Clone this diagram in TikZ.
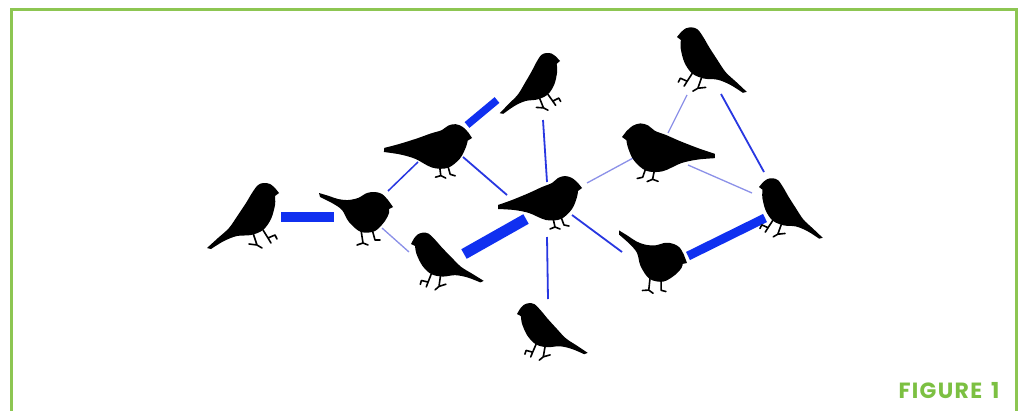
\documentclass[tikz,border=0pt]{standalone}
\usepackage{fontspec}
\newfontfamily\figfont{Poppins}[LetterSpace=6]
\definecolor{framegreen}{RGB}{141,198,82}
\definecolor{textgreen}{RGB}{124,192,66}
\definecolor{tiestrong}{RGB}{16,48,240}
\definecolor{tiemid}{RGB}{40,55,225}
\definecolor{tielight}{RGB}{140,145,232}

\tikzset{
  legs/.style={line width=1.6pt, line cap=round, line join=round},
  strongtie/.style={draw=tiestrong},
  midtie/.style={draw=tiemid, line width=1.8pt},
  lighttie/.style={draw=tielight, line width=1.3pt},
  % upright perched bird, beak tip at the origin, facing right
  birdA/.pic={
    \fill (0,0) -- plot[smooth,tension=0.55] coordinates {(-4,-5) (-9,-9) (-15,-10) (-21,-8) (-27,0) (-33,10) (-41,22) (-50,35) (-61,45) (-72,55)}
      -- plot[smooth,tension=0.55] coordinates {(-68,56) (-55,48) (-42,43) (-28,42) (-16,37) (-8,26) (-4,12) (-4,3)} -- cycle;
    \draw[legs] (-26,40) -- (-22,52) (-30,51) -- (-22,52) -- (-17,55)
                (-16,37) -- (-11,45) (-8,50) -- (-11,45) -- (-4,42) -- (-2,46);
  },
  % level bird with a long tail behind
  birdB/.pic={
    \fill (0,0) -- plot[smooth,tension=0.55] coordinates {(-4,-5) (-10,-10) (-17,-12) (-24,-10) (-30,-5) (-40,-1) (-53,5) (-70,12) (-84,17)}
      -- plot[smooth,tension=0.55] coordinates {(-84,21) (-68,22) (-53,25) (-36,32) (-21,31) (-10,21) (-5,9) (-4,3)} -- cycle;
    \draw[legs] (-29,30) -- (-27,39) (-32,41) -- (-27,39) -- (-22,41)
                (-21,29) -- (-18,37) -- (-13,38);
  },
  % bird with the tail cocked up
  birdC/.pic={
    \fill (0,0) -- plot[smooth,tension=0.55] coordinates {(-5,-7) (-11,-13) (-18,-15) (-26,-14) (-35,-9) (-45,-7) (-55,-8) (-64,-11) (-74,-14)}
      -- plot[smooth,tension=0.55] coordinates {(-73,-10) (-61,-4) (-51,3) (-44,15) (-32,25) (-18,24) (-8,14) (-4,6) (-4,2)} -- cycle;
    \draw[legs] (-32,23) -- (-30,36) (-36,38) -- (-30,36) -- (-25,38)
                (-21,22) -- (-18,33) -- (-13,33);
  }
}

\begin{document}
\begin{tikzpicture}[x=1pt,y=-1pt]
  \useasboundingbox (0,0) rectangle (1025,410);
  \fill[white] (0,0) rectangle (1025,410);

  % frame
  \draw[framegreen, line width=3pt] (11.5,412) -- (11.5,9.5) -- (1016.5,9.5) -- (1016.5,412);
  \node[text=textgreen, font=\figfont\bfseries\fontsize{22}{22}\selectfont, inner sep=0pt] (caption) at (949,391) {FIGURE\hspace{9pt}1};

  % tie end points
  \coordinate (b1-e) at (281,217);
  \coordinate (b2-w) at (334,217);
  \coordinate (b2-se) at (382,228);
  \coordinate (b3-nw) at (409,252);
  \coordinate (b2-ne) at (388,191);
  \coordinate (b4-sw) at (418,162);
  \coordinate (b3-ne) at (464,254);
  \coordinate (b6-sw) at (526,219);
  \coordinate (b4-ne) at (467,125);
  \coordinate (b5-sw) at (497,100);
  \coordinate (b4-se) at (463,157);
  \coordinate (b6-nw) at (507,195);
  \coordinate (b5-s) at (543,120);
  \coordinate (b6-n) at (547,182);
  \coordinate (b6-ne) at (587,183);
  \coordinate (b9-sw) at (635,157);
  \coordinate (b6-se) at (572,215);
  \coordinate (b8-nw) at (622,252);
  \coordinate (b6-s) at (547,237);
  \coordinate (b7-n) at (548,299);
  \coordinate (b8-e) at (688,256);
  \coordinate (b11-w) at (765,218);
  \coordinate (b9-n) at (668,133);
  \coordinate (b10-s) at (687,95);
  \coordinate (b10-se) at (721,94);
  \coordinate (b11-n) at (764,172);
  \coordinate (b9-se) at (688,165);
  \coordinate (b11-nw) at (752,193);

  % ties
  \draw[strongtie, line width=10pt] (b1-e) -- (b2-w);
  \draw[strongtie, line width=11pt] (b3-ne) -- (b6-sw);
  \draw[strongtie, line width=7.5pt] (b4-ne) -- (b5-sw);
  \draw[strongtie, line width=9pt] (b8-e) -- (b11-w);
  \draw[lighttie] (b2-se) -- (b3-nw);
  \draw[midtie, line width=1.5pt] (b2-ne) -- (b4-sw);
  \draw[midtie] (b4-se) -- (b6-nw);
  \draw[midtie] (b5-s) -- (b6-n);
  \draw[lighttie] (b6-ne) -- (b9-sw);
  \draw[midtie] (b6-se) -- (b8-nw);
  \draw[midtie] (b6-s) -- (b7-n);
  \draw[lighttie] (b9-n) -- (b10-s);
  \draw[midtie] (b10-se) -- (b11-n);
  \draw[lighttie] (b9-se) -- (b11-nw);

  % birds
  \pic[shift={(279,193)}] {birdA};
  \pic[shift={(560,61)}, rotate=3.5, scale=0.88] {birdA};
  \pic[shift={(411,244)}, rotate=10.5, xscale=-1, scale=0.90] {birdA};
  \pic[shift={(517,314)}, rotate=8.6, xscale=-1, scale=0.89] {birdA};
  \pic[shift={(677,37)}, rotate=-0.8, xscale=-1, scale=0.98] {birdA};
  \pic[shift={(759,187)}, rotate=-1.2, xscale=-1, scale=0.90] {birdA};
  \pic[shift={(582,188)}] {birdB};
  \pic[shift={(472,138)}, rotate=-5, scale=1.03] {birdB};
  \pic[shift={(622,137)}, rotate=1.2, xscale=-1, scale=1.1] {birdB};
  \pic[shift={(393,207)}] {birdC};
  \pic[shift={(687,263)}, rotate=-14.9] {birdC};
\end{tikzpicture}
\end{document}
